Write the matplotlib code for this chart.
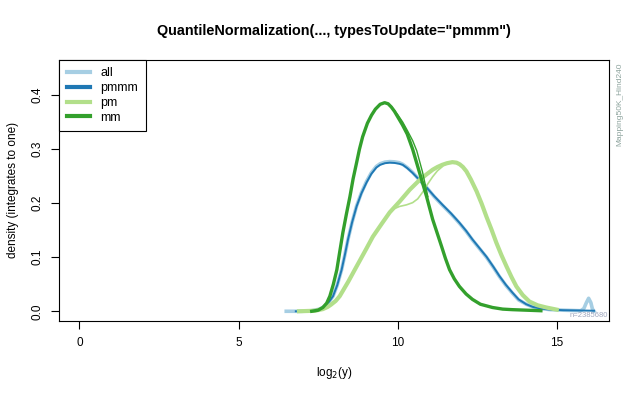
import matplotlib
matplotlib.use("Agg")
import matplotlib.pyplot as plt

plt.rcParams["font.family"] = ["Liberation Sans", "DejaVu Sans"]

ALL_C, PMMM_C, PM_C, MM_C = "#A6CEE3", "#1F78B4", "#B2DF8A", "#33A02C"

# density curves (x = log2(y), y = density)
all_x = [6.5, 7.0, 7.3, 7.55, 7.7, 7.85, 7.97, 8.1, 8.24, 8.34, 8.44, 8.57, 8.71, 8.86, 9.02,
         9.17, 9.33, 9.45, 9.6, 9.75, 9.9, 10.05, 10.16, 10.3, 10.47, 10.7, 10.91, 11.15,
         11.41, 11.68, 11.94, 12.15, 12.35, 12.57, 12.79, 13.0, 13.2, 13.4, 13.6, 13.8,
         14.04, 14.25, 14.5, 14.8, 15.2, 15.75, 15.85, 15.93, 16.0, 16.07, 16.12, 16.17]
all_y = [0.0, 0.0, 0.001, 0.004, 0.009, 0.018, 0.028, 0.048, 0.077, 0.104, 0.133, 0.165, 0.195,
         0.219, 0.240, 0.256, 0.268, 0.273, 0.276, 0.277, 0.2765, 0.275, 0.272, 0.266, 0.257,
         0.242, 0.229, 0.212, 0.196, 0.180, 0.163, 0.148, 0.132, 0.116, 0.100, 0.082, 0.064,
         0.048, 0.034, 0.021, 0.013, 0.008, 0.005, 0.003, 0.002, 0.001, 0.005, 0.016, 0.024,
         0.016, 0.004, 0.0]

pmmm_x = [6.8, 7.3, 7.55, 7.7, 7.85, 7.97, 8.1, 8.24, 8.34, 8.44, 8.57, 8.71, 8.86, 9.02, 9.17,
          9.33, 9.45, 9.6, 9.75, 9.9, 10.05, 10.16, 10.3, 10.47, 10.7, 10.91, 11.15, 11.41,
          11.68, 11.94, 12.15, 12.35, 12.57, 12.79, 13.0, 13.2, 13.4, 13.6, 13.8, 14.04,
          14.25, 14.5, 14.8, 15.2, 16.17]
pmmm_y = [0.0, 0.0, 0.004, 0.009, 0.018, 0.028, 0.048, 0.077, 0.104, 0.133, 0.165, 0.194, 0.218,
          0.238, 0.254, 0.266, 0.271, 0.274, 0.275, 0.2745, 0.273, 0.271, 0.265, 0.256, 0.242,
          0.229, 0.213, 0.197, 0.181, 0.164, 0.149, 0.133, 0.117, 0.101, 0.083, 0.065, 0.049,
          0.035, 0.022, 0.013, 0.008, 0.005, 0.003, 0.002, 0.001]

pm_x = [6.9, 7.4, 7.65, 7.8, 7.9, 8.05, 8.18, 8.3, 8.45, 8.58, 8.71, 9.0, 9.22, 9.5, 9.75, 10.06,
        10.38, 10.69, 10.9, 11.1, 11.25, 11.4, 11.55, 11.72, 11.85, 11.95, 12.05, 12.16, 12.3,
        12.48, 12.64, 12.79, 12.95, 13.1, 13.26, 13.42, 13.58, 13.73, 13.93, 14.14, 14.4,
        14.67, 15.0]
pm_y = [0.0, 0.001, 0.004, 0.008, 0.012, 0.019, 0.028, 0.040, 0.055, 0.069, 0.083, 0.114, 0.138,
        0.162, 0.183, 0.203, 0.225, 0.243, 0.253, 0.262, 0.267, 0.271, 0.274, 0.276, 0.275,
        0.272, 0.267, 0.259, 0.244, 0.222, 0.199, 0.175, 0.151, 0.127, 0.104, 0.083, 0.063,
        0.046, 0.030, 0.018, 0.011, 0.007, 0.003]
pm_odd_x = [9.75, 9.9, 10.06, 10.28, 10.47, 10.63, 10.78, 10.95, 11.1, 11.25, 11.41]
pm_odd_y = [0.183, 0.190, 0.194, 0.197, 0.201, 0.208, 0.220, 0.236, 0.249, 0.260, 0.268]

mm_x = [7.3, 7.5, 7.65, 7.77, 7.87, 7.98, 8.09, 8.18, 8.28, 8.39, 8.5, 8.6, 8.71, 8.8, 8.9, 9.05,
        9.18, 9.3, 9.45, 9.59, 9.7, 9.8, 9.9, 9.97, 10.15, 10.3, 10.47, 10.58, 10.69, 10.8,
        10.91, 11.0, 11.1, 11.24, 11.38, 11.5, 11.63, 11.78, 11.94, 12.15, 12.35, 12.6, 12.98,
        13.3, 13.6, 14.5]
mm_y = [0.0, 0.002, 0.007, 0.015, 0.028, 0.050, 0.077, 0.110, 0.146, 0.180, 0.212, 0.245, 0.275,
        0.300, 0.323, 0.348, 0.363, 0.374, 0.383, 0.386, 0.384, 0.378, 0.370, 0.363, 0.345,
        0.328, 0.300, 0.278, 0.256, 0.234, 0.212, 0.192, 0.170, 0.145, 0.120, 0.098, 0.077,
        0.060, 0.046, 0.032, 0.022, 0.013, 0.007, 0.004, 0.003, 0.001]
mm_odd_x = [9.8, 10.0, 10.16, 10.31, 10.47, 10.6, 10.78, 10.95]
mm_odd_y = [0.379, 0.364, 0.350, 0.334, 0.316, 0.297, 0.258, 0.212]

groups = ["all", "pmmm", "pm", "mm"]

fig = plt.figure(figsize=(6.4, 3.95), dpi=100)
ax = fig.add_axes([59 / 640, 1 - 321 / 395, 550 / 640, 261 / 395])

ax.plot(all_x, all_y, color=ALL_C, lw=2.6)
ax.plot(pmmm_x, pmmm_y, color=PMMM_C, lw=1.4)
ax.plot(pm_odd_x, pm_odd_y, color=PM_C, lw=1.2)
ax.plot(pm_x, pm_y, color=PM_C, lw=3.0)
ax.plot(mm_odd_x, mm_odd_y, color=MM_C, lw=1.0)
ax.plot(mm_x, mm_y, color=MM_C, lw=2.4)

ax.set_xlim(-0.64, 16.64)
ax.set_ylim(-0.018, 0.465)
ax.set_xticks([0, 5, 10, 15])
ax.set_yticks([0.0, 0.1, 0.2, 0.3, 0.4])
ax.set_yticklabels(["0.0", "0.1", "0.2", "0.3", "0.4"], rotation=90, va="center")
ax.tick_params(labelsize=8.5, length=5.5, width=0.8, pad=6)
for s in ax.spines.values():
    s.set_linewidth(0.8)

handles = [plt.Line2D([], [], color=c, lw=3) for c in (ALL_C, PMMM_C, PM_C, MM_C)]
leg = ax.legend(handles, groups, loc="upper left", borderaxespad=0, fontsize=9,
                fancybox=False, framealpha=1, edgecolor="black", handlelength=1.9,
                labelspacing=0.22, borderpad=0.6, handletextpad=0.8)
leg.get_frame().set_linewidth(0.8)

fig.text(334 / 640, 1 - 31 / 395, 'QuantileNormalization(..., typesToUpdate="pmmm")',
         ha="center", va="center", fontsize=10.4, fontweight="bold")
fig.text(334 / 640, 1 - 373 / 395, "log$_2$(y)", ha="center", va="center", fontsize=8.5)
fig.text(13 / 640, 1 - 190 / 395, "density (integrates to one)", rotation=90,
         ha="center", va="center", fontsize=8.5)
fig.text(620 / 640, 1 - 62 / 395, "Mapping50K_Hind240", rotation=90, ha="center", va="top",
         fontsize=6, color="#8ea49e")
fig.text(608 / 640, 1 - 315.5 / 395, "n=2385680", ha="right", va="center",
         fontsize=5.5, color="#a0a8bf")

fig.savefig("out.png", dpi=100)
